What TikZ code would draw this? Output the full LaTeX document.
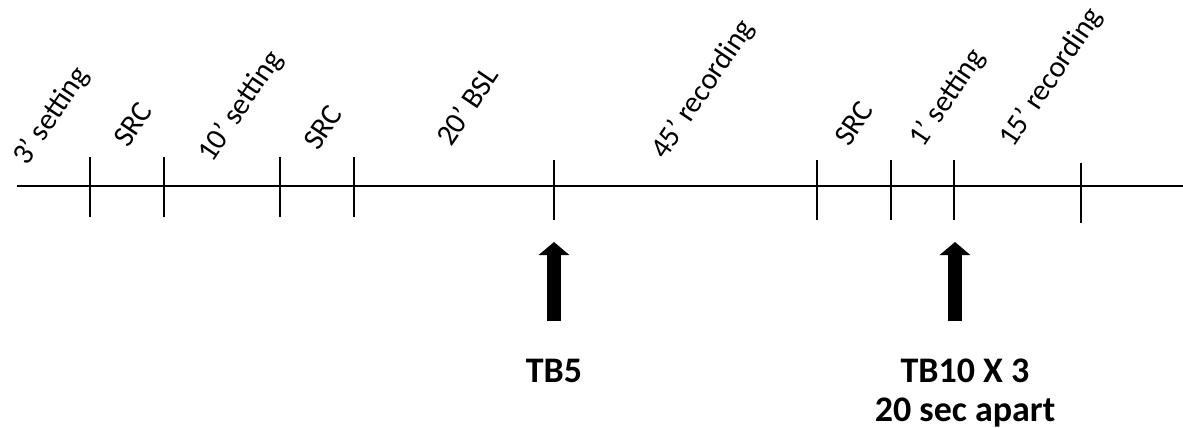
\documentclass[tikz,border=0pt]{standalone}
\usepackage{fontspec}
\setmainfont{Carlito}
\usetikzlibrary{arrows.meta}
\begin{document}
\begin{tikzpicture}[x=1pt,y=-1pt,
  axisline/.style={line width=1.4pt,black},
  tick/.style={line width=1.4pt,black},
  lbl/.style={rotate=56,anchor=base west,inner sep=0pt,font=\fontsize{30}{35}\selectfont},
  blbl/.style={anchor=base,inner sep=0pt,font=\fontsize{36}{40}\selectfont\bfseries},
  bigarrow/.style={line width=14pt,-{Triangle[width=30pt,length=13pt]}}]
\useasboundingbox (0,0) rectangle (1183,428);
% axis
\coordinate (L) at (17,186);
\coordinate (R) at (1183,186);
\draw[axisline] (L) -- (R);
% ticks
\foreach \x/\t/\b in {90/157/217,164/157/217,280/157/217,354/157/217,554/160/220,817/160/220,891/160/220,954/160/220,1081/163/223}
  \draw[tick] (\x,\t) -- (\x,\b);
% labels
\node[lbl] (l1) at (27,167) {3’ setting};
\node[lbl] (l2) at (128,149) {SRC};
\node[lbl] (l3) at (212,164) {10’ setting};
\node[lbl] (l4) at (318,152) {SRC};
\node[lbl] (l5) at (451,148) {20’ BSL};
\node[lbl] (l6) at (665,161) {45’ recording};
\node[lbl] (l7) at (849,148) {SRC};
\node[lbl] (l8) at (923,149) {1’ setting};
\node[lbl] (l9) at (1013,149) {15’ recording};
% arrows
\coordinate (a1s) at (554,321);
\coordinate (a1e) at (554,242);
\coordinate (a2s) at (955,321);
\coordinate (a2e) at (955,242);
\draw[bigarrow] (a1s) -- (a1e);
\draw[bigarrow] (a2s) -- (a2e);
% bottom labels
\node[blbl] (tb5) at (554,382) {TB5};
\node[blbl] (tb10) at (965,382) {TB10 X 3};
\node[blbl] (apart) at (965,421) {20 sec apart};
\end{tikzpicture}
\end{document}
